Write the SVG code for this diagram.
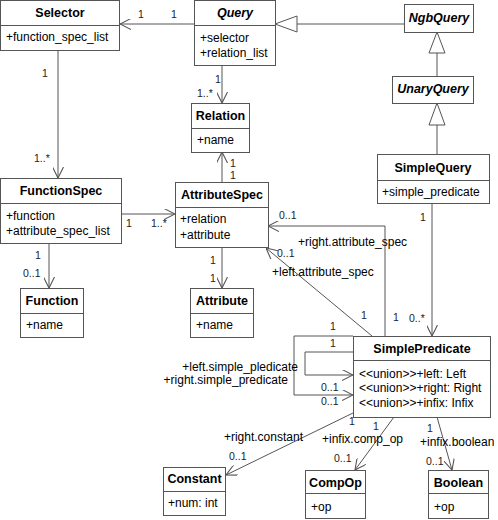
<svg xmlns="http://www.w3.org/2000/svg" width="498" height="520" viewBox="0 0 498 520">
<defs>
<style>
.box{fill:#fff;stroke:#555;stroke-width:1}
.ln{fill:none;stroke:#555;stroke-width:1}
.h{font-family:"Liberation Sans",Arial,sans-serif;font-size:12.5px;font-weight:bold;text-anchor:middle;fill:#000}
.hi{font-style:italic}
.a{font-family:"Liberation Sans",Arial,sans-serif;font-size:12px;fill:#000}
.m{font-family:"Liberation Sans",Arial,sans-serif;font-size:10.5px;fill:#222}
.gen{fill:#fff;stroke:#555;stroke-width:1}
</style>
<marker id="open" viewBox="0 0 10 10" refX="10" refY="5" markerUnits="userSpaceOnUse" markerWidth="11" markerHeight="11" orient="auto">
<path d="M0,0 L10,5 L0,10" fill="none" stroke="#555" stroke-width="1"/>
</marker>
</defs>
<rect width="498" height="520" fill="#fff"/>

<g id="connectors">
<line class="ln" x1="194" y1="24" x2="120" y2="24" marker-end="url(#open)"/>
<line class="ln" x1="404" y1="24" x2="297" y2="24"/>
<polygon class="gen" points="275,24 297,16 297,32"/>
<line class="ln" x1="437" y1="76" x2="437" y2="53"/>
<polygon class="gen" points="437,32 429,53 445,53"/>
<line class="ln" x1="437" y1="154" x2="437" y2="125"/>
<polygon class="gen" points="437,103 429,125 445,125"/>
<line class="ln" x1="222" y1="65" x2="222" y2="103" marker-end="url(#open)"/>
<line class="ln" x1="58" y1="50" x2="58" y2="178" marker-end="url(#open)"/>
<line class="ln" x1="222" y1="182" x2="222" y2="152" marker-end="url(#open)"/>
<line class="ln" x1="122" y1="214" x2="175" y2="214" marker-end="url(#open)"/>
<line class="ln" x1="49" y1="243" x2="49" y2="288" marker-end="url(#open)"/>
<line class="ln" x1="222" y1="247" x2="222" y2="288" marker-end="url(#open)"/>
<line class="ln" x1="432" y1="203" x2="432" y2="336" marker-end="url(#open)"/>
<polyline class="ln" points="385,336 385,226 268,226" marker-end="url(#open)"/>
<line class="ln" x1="372" y1="336" x2="266" y2="248" marker-end="url(#open)"/>
<polyline class="ln" points="353,336 294,336 294,395 353,395" marker-end="url(#open)"/>
<polyline class="ln" points="353,352 305,352 305,375 353,375" marker-end="url(#open)"/>
<line class="ln" x1="353" y1="413" x2="226" y2="475" marker-end="url(#open)"/>
<line class="ln" x1="394" y1="417" x2="355" y2="470" marker-end="url(#open)"/>
<line class="ln" x1="437" y1="417" x2="452" y2="470" marker-end="url(#open)"/>

<text class="m" x="138" y="18">1</text>
<text class="m" x="171" y="18">1</text>
<text class="m" x="42" y="77">1</text>
<text class="m" x="34" y="162">1..*</text>
<text class="m" x="215" y="83">1</text>
<text class="m" x="197" y="97">1..*</text>
<text class="m" x="230" y="167">1</text>
<text class="m" x="230" y="179">1</text>
<text class="m" x="126" y="227">1</text>
<text class="m" x="151" y="227">1..*</text>
<text class="m" x="35" y="259">1</text>
<text class="m" x="23" y="277">0..1</text>
<text class="m" x="210" y="264">1</text>
<text class="m" x="210" y="282">1</text>
<text class="m" x="279" y="219">0..1</text>
<text class="m" x="277" y="257">0..1</text>
<text class="m" x="361" y="319">1</text>
<text class="m" x="393" y="321">1</text>
<text class="m" x="420" y="221">1</text>
<text class="m" x="409" y="322">0..*</text>
<text class="m" x="330" y="330">1</text>
<text class="m" x="330" y="347">1</text>
<text class="m" x="321" y="391">0..1</text>
<text class="m" x="321" y="405">0..1</text>
<text class="m" x="349" y="425">1</text>
<text class="m" x="229" y="460">0..1</text>
<text class="m" x="373" y="430">1</text>
<text class="m" x="334" y="462">0..1</text>
<text class="m" x="427" y="432">1</text>
<text class="m" x="426" y="465">0..1</text>

<text class="a" x="298" y="246">+right.attribute_spec</text>
<text class="a" x="272" y="276">+left.attribute_spec</text>
<text class="a" x="298" y="371" text-anchor="end">+left.simple_pledicate</text>
<text class="a" x="288" y="384" text-anchor="end">+right.simple_predicate</text>
<text class="a" x="303" y="441" text-anchor="end">+right.constant</text>
<text class="a" x="322" y="443">+infix.comp_op</text>
<text class="a" x="420" y="446">+infix.boolean</text>
</g>

<g id="Selector">
<rect class="box" x="0.5" y="0.5" width="119" height="50"/>
<line class="ln" x1="0.5" y1="25.5" x2="119.5" y2="25.5"/>
<text class="h" x="60" y="17">Selector</text>
<text class="a" x="6" y="41">+function_spec_list</text>
</g>

<g id="Query">
<rect class="box" x="194.5" y="0.5" width="81" height="65"/>
<line class="ln" x1="194.5" y1="25.5" x2="275.5" y2="25.5"/>
<text class="h hi" x="235" y="17">Query</text>
<text class="a" x="200" y="42">+selector</text>
<text class="a" x="200" y="57">+relation_list</text>
</g>

<g id="NgbQuery">
<rect class="box" x="404.5" y="4.5" width="69" height="28"/>
<text class="h hi" x="439" y="22">NgbQuery</text>
</g>

<g id="UnaryQuery">
<rect class="box" x="392.5" y="76.5" width="81" height="27"/>
<text class="h hi" x="433" y="93">UnaryQuery</text>
</g>

<g id="SimpleQuery">
<rect class="box" x="377.5" y="154.5" width="112" height="49"/>
<line class="ln" x1="377.5" y1="180.5" x2="489.5" y2="180.5"/>
<text class="h" x="433" y="172">SimpleQuery</text>
<text class="a" x="382" y="196">+simple_predicate</text>
</g>

<g id="Relation">
<rect class="box" x="191.5" y="103.5" width="58" height="49"/>
<line class="ln" x1="191.5" y1="128.5" x2="249.5" y2="128.5"/>
<text class="h" x="220.5" y="120">Relation</text>
<text class="a" x="197" y="144">+name</text>
</g>

<g id="FunctionSpec">
<rect class="box" x="0.5" y="178.5" width="121" height="65"/>
<line class="ln" x1="0.5" y1="203.5" x2="121.5" y2="203.5"/>
<text class="h" x="61" y="195">FunctionSpec</text>
<text class="a" x="6" y="220">+function</text>
<text class="a" x="6" y="235">+attribute_spec_list</text>
</g>

<g id="AttributeSpec">
<rect class="box" x="175.5" y="182.5" width="93" height="65"/>
<line class="ln" x1="175.5" y1="207.5" x2="268.5" y2="207.5"/>
<text class="h" x="222" y="199">AttributeSpec</text>
<text class="a" x="180" y="223">+relation</text>
<text class="a" x="180" y="239">+attribute</text>
</g>

<g id="Function">
<rect class="box" x="20.5" y="288.5" width="63" height="49"/>
<line class="ln" x1="20.5" y1="313.5" x2="83.5" y2="313.5"/>
<text class="h" x="52" y="305">Function</text>
<text class="a" x="26" y="329">+name</text>
</g>

<g id="Attribute">
<rect class="box" x="190.5" y="288.5" width="63" height="49"/>
<line class="ln" x1="190.5" y1="313.5" x2="253.5" y2="313.5"/>
<text class="h" x="222" y="305">Attribute</text>
<text class="a" x="196" y="329">+name</text>
</g>

<g id="SimplePredicate">
<rect class="box" x="353.5" y="336.5" width="137" height="81"/>
<line class="ln" x1="353.5" y1="360.5" x2="490.5" y2="360.5"/>
<text class="h" x="422" y="353">SimplePredicate</text>
<text class="a" x="359" y="378">&lt;&lt;union&gt;&gt;+left: Left</text>
<text class="a" x="359" y="392">&lt;&lt;union&gt;&gt;+right: Right</text>
<text class="a" x="359" y="407">&lt;&lt;union&gt;&gt;+infix: Infix</text>
</g>

<g id="Constant">
<rect class="box" x="163.5" y="467.5" width="62" height="48"/>
<line class="ln" x1="163.5" y1="491.5" x2="225.5" y2="491.5"/>
<text class="h" x="194.5" y="483">Constant</text>
<text class="a" x="168" y="507">+num: int</text>
</g>

<g id="CompOp">
<rect class="box" x="305.5" y="470.5" width="60" height="48"/>
<line class="ln" x1="305.5" y1="493.5" x2="365.5" y2="493.5"/>
<text class="h" x="335.5" y="487">CompOp</text>
<text class="a" x="311" y="511">+op</text>
</g>

<g id="Boolean">
<rect class="box" x="428.5" y="470.5" width="60" height="48"/>
<line class="ln" x1="428.5" y1="493.5" x2="488.5" y2="493.5"/>
<text class="h" x="458.5" y="487">Boolean</text>
<text class="a" x="434" y="511">+op</text>
</g>
</svg>
